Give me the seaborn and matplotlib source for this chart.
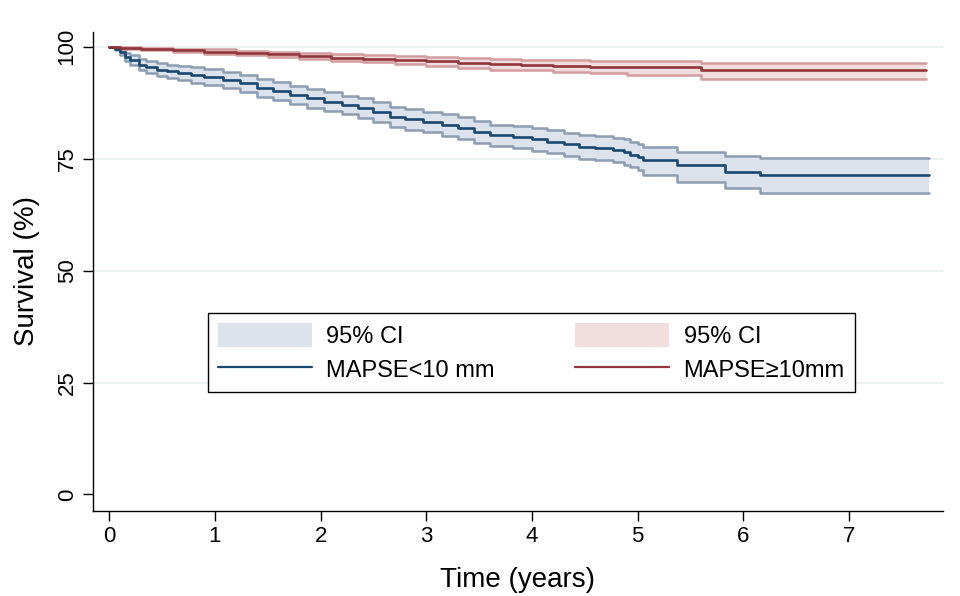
import numpy as np
import matplotlib
matplotlib.use("Agg")
import matplotlib.pyplot as plt
import seaborn as sns
from matplotlib.patches import Patch
from matplotlib.lines import Line2D

# Kaplan-Meier estimates (time in years, survival in %)
t_low = [0, 0.05, 0.1, 0.15, 0.2, 0.28, 0.35, 0.45, 0.55, 0.65, 0.77, 0.9, 1.08, 1.24,
         1.4, 1.55, 1.71, 1.87, 2.03, 2.2, 2.35, 2.5, 2.66, 2.8, 2.97, 3.15, 3.3, 3.45,
         3.6, 3.82, 4.0, 4.14, 4.3, 4.45, 4.6, 4.77, 4.87, 4.93, 5.0, 5.05, 5.37, 5.83,
         6.16, 7.76]
surv_low = [100, 99.6, 98.8, 97.8, 97.0, 96.0, 95.5, 94.9, 94.5, 94.1, 93.7, 93.2, 92.6, 91.9,
            90.8, 90.1, 89.3, 88.5, 87.7, 87.0, 86.4, 85.5, 84.3, 83.8, 83.2, 82.5, 81.9, 81.0,
            80.2, 79.9, 79.3, 78.8, 78.2, 77.7, 77.3, 77.0, 76.5, 75.9, 75.3, 74.7, 73.6, 72.1,
            71.4, 71.4]
hi_low = [100, 99.9, 99.4, 98.7, 98.1, 97.3, 96.9, 96.4, 96.0, 95.7, 95.4, 95.0, 94.4, 93.8,
          92.8, 92.1, 91.3, 90.6, 89.8, 89.1, 88.6, 87.7, 86.6, 86.1, 85.5, 84.9, 84.3, 83.4,
          82.6, 82.4, 81.8, 81.4, 80.8, 80.4, 80.0, 79.7, 79.3, 78.7, 78.2, 77.7, 76.6, 75.6,
          75.1, 75.1]
lo_low = [100, 99.2, 98.1, 96.9, 95.9, 94.7, 94.1, 93.4, 93.0, 92.5, 92.0, 91.4, 90.8, 90.0,
          88.8, 88.1, 87.3, 86.4, 85.6, 84.9, 84.2, 83.3, 82.0, 81.5, 80.9, 80.1, 79.5, 78.6,
          77.8, 77.4, 76.8, 76.2, 75.6, 75.0, 74.6, 74.3, 73.7, 73.1, 72.4, 71.4, 69.9, 68.4,
          67.3, 67.3]

t_high = [0, 0.1, 0.3, 0.6, 0.9, 1.2, 1.5, 1.8, 2.1, 2.4, 2.7, 3.0, 3.3, 3.6, 3.9, 4.2,
          4.55, 4.9, 5.6, 7.73]
surv_high = [100, 99.8, 99.5, 99.2, 98.9, 98.6, 98.3, 97.9, 97.6, 97.3, 97.1, 96.8, 96.4, 96.1,
             95.9, 95.7, 95.5, 95.4, 94.9, 94.9]
hi_high = [100, 100, 99.8, 99.6, 99.4, 99.1, 98.9, 98.6, 98.4, 98.1, 97.9, 97.7, 97.5, 97.2,
           97.1, 97.0, 96.9, 96.9, 96.4, 96.4]
lo_high = [100, 99.6, 99.2, 98.8, 98.4, 98.1, 97.7, 97.2, 96.8, 96.5, 96.2, 95.8, 95.3, 94.9,
           94.7, 94.4, 94.1, 93.8, 92.9, 92.9]

x_ticks = [0, 1, 2, 3, 4, 5, 6, 7]
y_ticks = [0, 25, 50, 75, 100]

blue, blue_edge, blue_fill = "#1a476f", "#8c9db3", "#dce3ec"
red, red_edge, red_fill = "#90353b", "#d39c9f", "#f2dede"

sns.set_style("white")
plt.rcParams["font.family"] = ["Liberation Sans", "DejaVu Sans"]
plt.rcParams["text.color"] = "black"
plt.rcParams["axes.labelcolor"] = "black"

fig = plt.figure(figsize=(9.6, 5.96), dpi=100)
ax = fig.add_axes([93 / 960, 1 - 511 / 596, 850 / 960, 479 / 596])

groups = [
    (t_low, surv_low, lo_low, hi_low, blue, blue_edge, blue_fill),
    (t_high, surv_high, lo_high, hi_high, red, red_edge, red_fill),
]
for t, s, lo, hi, c, ce, cf in groups:
    ax.fill_between(t, lo, hi, step="post", color=cf, lw=0, zorder=2)
    for band in (lo, hi):
        sns.lineplot(x=t, y=band, drawstyle="steps-post", estimator=None,
                     color=ce, lw=1.8, ax=ax, zorder=3)
    sns.lineplot(x=t, y=s, drawstyle="steps-post", estimator=None,
                 color=c, lw=1.9, ax=ax, zorder=4)

ax.set_xlim(-0.154, 7.89)
ax.set_ylim(-3.7, 103.3)
ax.set_xticks(x_ticks)
ax.set_yticks(y_ticks)
ax.set_yticklabels([str(v) for v in y_ticks], rotation=90, va="center")
ax.tick_params(axis="both", direction="out", length=7, width=1, colors="black",
               labelsize=16, pad=4, left=True, bottom=True)
ax.yaxis.grid(True, color="#eaf0f2", lw=1.3, zorder=0)
ax.get_ygridlines()[0].set_visible(False)
ax.set_axisbelow(True)
for side in ("top", "right"):
    ax.spines[side].set_visible(False)
for side in ("left", "bottom"):
    ax.spines[side].set_color("black")
    ax.spines[side].set_linewidth(1)

ax.set_xlabel("Time (years)", fontsize=20, labelpad=14)
ax.set_ylabel("Survival (%)", fontsize=20, labelpad=12)

handles = [
    Patch(facecolor=blue_fill, edgecolor="none"),
    Line2D([], [], color=blue, lw=1.6),
    Patch(facecolor=red_fill, edgecolor="none"),
    Line2D([], [], color=red, lw=1.6),
]
labels = ["95% CI", "MAPSE<10 mm", "95% CI", "MAPSE\u226510mm"]
leg = ax.legend(handles, labels, ncol=2, loc="lower left",
                bbox_to_anchor=(0.135, 0.248, 0.761, 0.172), mode="expand",
                borderaxespad=0, fontsize=17, handlelength=4.0, handleheight=1.2,
                handletextpad=0.6, labelspacing=0.38, borderpad=0.42, frameon=True,
                fancybox=False, edgecolor="black", framealpha=1)
leg.get_frame().set_linewidth(1)

fig.savefig("out.png", dpi=100)
